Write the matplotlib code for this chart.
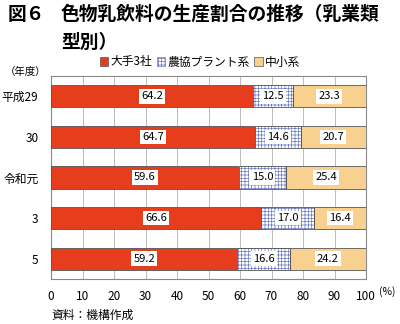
import numpy as np
import matplotlib.pyplot as plt
from matplotlib.patches import Patch

plt.rcParams['font.family'] = ['Noto Sans CJK JP', 'DejaVu Sans']
plt.rcParams['hatch.linewidth'] = 0.5

years = ['平成29', '30', '令和元', '3', '5']
oote = [64.2, 64.7, 59.6, 66.6, 59.2]
nokyo = [12.5, 14.6, 15.0, 17.0, 16.6]
chusho = [23.3, 20.7, 25.4, 16.4, 24.2]
series_names = ['大手3社', '農協プラント系', '中小系']

fig = plt.figure(figsize=(4.0, 3.24), dpi=100)
ax = fig.add_axes([51/400, 1-279/324, 315/400, 203/324])

y = np.arange(len(years))
h = 0.55
ax.barh(y, oote, height=h, color='#E63D1C', edgecolor='#555555', linewidth=0.6, zorder=3)
ax.barh(y, nokyo, left=oote, height=h, color='white', edgecolor='#6A7BC0',
        hatch='+++++', linewidth=0, zorder=3)
ax.barh(y, nokyo, left=oote, height=h, color='none', edgecolor='#555555', linewidth=0.6, zorder=4)
left3 = np.array(oote) + np.array(nokyo)
ax.barh(y, chusho, left=left3, height=h, color='#F8D191', edgecolor='#555555', linewidth=0.6, zorder=3)

box = dict(boxstyle='square,pad=0.2', fc='white', ec='none')
for i in range(len(years)):
    ax.text(oote[i]/2, y[i], '%.1f' % oote[i], ha='center', va='center', fontsize=8, bbox=box, zorder=5)
    ax.text(oote[i] + nokyo[i]/2, y[i], '%.1f' % nokyo[i], ha='center', va='center', fontsize=8, bbox=box, zorder=5)
    ax.text(left3[i] + chusho[i]/2, y[i], '%.1f' % chusho[i], ha='center', va='center', fontsize=8, bbox=box, zorder=5)

ax.set_xlim(0, 100)
ax.set_ylim(len(years)-0.5, -0.5)
ax.set_xticks(np.arange(0, 101, 10))
ax.set_yticks(y)
ax.set_yticklabels(years, fontsize=8.5)
ax.tick_params(axis='both', length=0, labelsize=8.5)
ax.tick_params(axis='x', pad=8)
ax.tick_params(axis='y', pad=9)
ax.xaxis.grid(True, color='#BBBBBB', linewidth=0.7, zorder=0)
for s in ax.spines.values():
    s.set_color('#888888')
    s.set_linewidth(0.8)

handles = [Patch(facecolor='#E63D1C', edgecolor='#555555', linewidth=0.5),
           Patch(facecolor='white', edgecolor='#6A7BC0', hatch='+++++', linewidth=0.5),
           Patch(facecolor='#F8D191', edgecolor='#555555', linewidth=0.5)]
fig.legend(handles, series_names, loc='center', bbox_to_anchor=(0.5, 1-62/324), ncol=3,
           frameon=False, fontsize=8.5, handlelength=0.7, handleheight=0.7,
           handletextpad=0.2, columnspacing=0.4)

fig.text(8/400, 1-14/324, '図６', fontsize=13.5, va='center', weight='bold')
fig.text(61/400, 1-14/324, '色物乳飲料の生産割合の推移（乳業類', fontsize=13.5, va='center', weight='bold')
fig.text(61/400, 1-42/324, '型別）', fontsize=13.5, va='center', weight='bold')
fig.text(5/400, 1-72/324, '（年度）', fontsize=7.5, va='center')
fig.text(379/400, 1-292/324, '(%)', fontsize=7.5, va='center', ha='left')
fig.text(51/400, 1-315/324, '資料：機構作成', fontsize=8.5, va='center')

fig.savefig('out.png', dpi=100)
